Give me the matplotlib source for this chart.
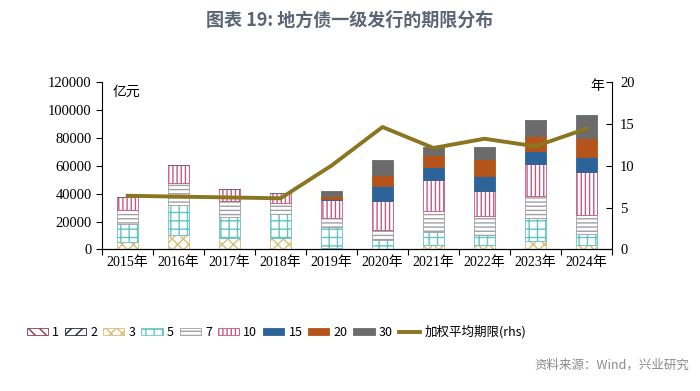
import numpy as np
import matplotlib
matplotlib.use("Agg")
import matplotlib.pyplot as plt

plt.rcParams['font.family'] = ['Noto Sans CJK SC', 'DejaVu Sans']
plt.rcParams['hatch.linewidth'] = 1.0

# data (亿元)
years = ["2015年", "2016年", "2017年", "2018年", "2019年", "2020年", "2021年", "2022年", "2023年", "2024年"]
t1 = [0, 0, 0, 0, 0, 0, 0, 0, 0, 300]
t2 = [0, 0, 0, 0, 0, 0, 0, 0, 0, 300]
t3 = [5600, 10300, 8000, 8000, 1300, 500, 3200, 3200, 5700, 2400]
t5 = [12600, 21400, 15400, 17100, 14500, 6600, 9500, 7100, 16700, 8300]
t7 = [10000, 15500, 11400, 7900, 6400, 7100, 14800, 13600, 15500, 13100]
t10 = [9100, 13000, 8400, 7600, 13100, 20700, 22100, 17900, 23300, 30900]
t15 = [0, 0, 0, 0, 600, 10200, 9500, 10700, 9300, 10700]
t20 = [0, 0, 0, 0, 2000, 8300, 8300, 11900, 10700, 13800]
t30 = [0, 0, 0, 0, 4000, 10700, 6000, 8600, 11400, 16700]
avg_term = [6.4, 6.3, 6.2, 6.1, 10.0, 14.6, 12.1, 13.2, 12.3, 14.4]

series = [
    ("1", t1, dict(facecolor="white", edgecolor="#8b3a4c", hatch="\\\\\\")),
    ("2", t2, dict(facecolor="white", edgecolor="#1f2835", hatch="///")),
    ("3", t3, dict(facecolor="white", edgecolor="#d8bd78", hatch="xxx")),
    ("5", t5, dict(facecolor="white", edgecolor="#62c4c6", hatch="++")),
    ("7", t7, dict(facecolor="white", edgecolor="#a0a0a0", hatch="----")),
    ("10", t10, dict(facecolor="white", edgecolor="#c25a82", hatch="||||")),
    ("15", t15, dict(facecolor="#2c6499", edgecolor="#2c6499")),
    ("20", t20, dict(facecolor="#b4541a", edgecolor="#b4541a")),
    ("30", t30, dict(facecolor="#6b6b6b", edgecolor="#6b6b6b")),
]

fig = plt.figure(figsize=(7, 3.91), dpi=100)
ax = fig.add_axes([0.146, 0.362, 0.728, 0.429])
x = np.arange(len(years))
bottom = np.zeros(len(years))
handles = []
for name, vals, st in series:
    vals = np.array(vals, dtype=float)
    b = ax.bar(x, vals, 0.4, bottom=bottom, linewidth=0.6, label=name, **st)
    bottom += vals
    handles.append(b)

ax.set_xlim(-0.5, len(years) - 0.5)
ax.set_ylim(0, 120000)
ax.set_yticks(np.arange(0, 120001, 20000))
ax.set_xticks(np.arange(-0.5, len(years), 1))
ax.set_xticklabels([])
ax.set_xticks(x, minor=True)
ax.set_xticklabels(years, minor=True, fontsize=10,
                   family=['Liberation Serif', 'Noto Sans CJK SC'])
ax.tick_params(axis='x', which='major', direction='out', length=4)
ax.tick_params(axis='x', which='minor', length=0, pad=5)
ax.tick_params(axis='y', direction='out', length=4)
for lab in ax.get_yticklabels():
    lab.set_family('Liberation Serif')
    lab.set_fontsize(10.5)
ax.spines['top'].set_visible(False)
ax.spines['right'].set_visible(False)
ax.text(0.02, 0.94, "亿元", transform=ax.transAxes, fontsize=10, va='center', ha='left')

ax2 = ax.twinx()
line, = ax2.plot(x, avg_term, color="#8a7520", linewidth=2.8, label="加权平均期限(rhs)")
ax2.set_ylim(0, 20)
ax2.set_yticks(np.arange(0, 21, 5))
ax2.tick_params(axis='y', direction='in', length=4, pad=6)
for lab in ax2.get_yticklabels():
    lab.set_family('Liberation Serif')
    lab.set_fontsize(10.5)
ax2.spines['top'].set_visible(False)
ax2.spines['left'].set_visible(False)
ax2.text(0.985, 0.975, "年", transform=ax2.transAxes, fontsize=10, va='center', ha='right')

fig.text(0.5, 0.949, "图表 19: 地方债一级发行的期限分布", ha='center', va='center',
         fontsize=13, fontweight='bold', color="#5b6675")

fig.legend(handles + [line], [s[0] for s in series] + ["加权平均期限(rhs)"],
           loc='center left', bbox_to_anchor=(0.038, 0.151), ncol=10, frameon=False,
           fontsize=9, handlelength=1.7, handleheight=0.5, handletextpad=0.35,
           columnspacing=0.45, borderaxespad=0, borderpad=0)

fig.text(0.985, 0.067, "资料来源：Wind，兴业研究", ha='right', va='center',
         fontsize=9, color="#8a8a8a")

fig.savefig("out.png", dpi=100)
